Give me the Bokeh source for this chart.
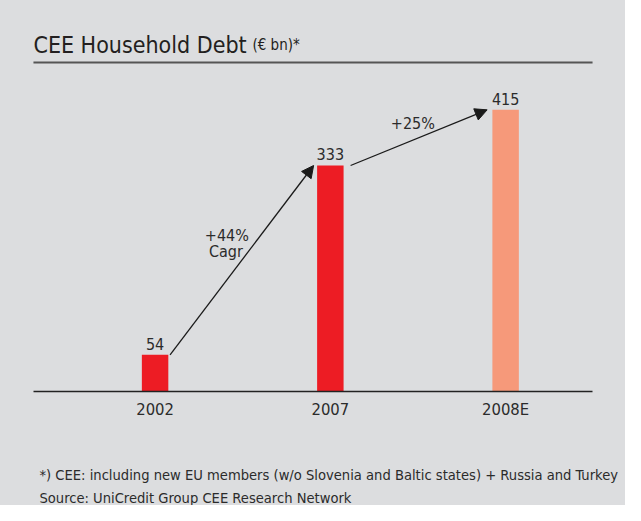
from bokeh.plotting import figure
from bokeh.models import (Range1d, Label, Arrow, NormalHead,
                          ColumnDataSource, FixedTicker)
from bokeh.core.properties import value
from bokeh.embed import file_html
from bokeh.resources import INLINE

# ---- data ----
categories = ["2002", "2007", "2008E"]
debt = [54, 333, 415]
bar_colors = ["#ED1C24", "#ED1C24", "#F6997A"]
arrow_from = [0, 1]
arrow_to = [1, 2]
arrow_labels = [["+44%", "Cagr"], ["+25%"]]
title_main = "CEE Household Debt"
title_unit = "(€ bn)*"
footnotes = [
    "*) CEE: including new EU members (w/o Slovenia and Baltic states) + Russia and Turkey",
    "Source: UniCredit Group CEE Research Network",
]

FONT_NAME = "DejaVu Sans Condensed"
FONT = value(FONT_NAME)
BG = "#DCDDDF"
TXT = "#2B2B2B"
BAR_W = 0.151
X0, X1 = -0.694, 2.496          # extent of the rule and the axis line
XL, XR = -0.882, 2.684          # extent of the drawing area
Y_LINE = 484.7                  # level of the title rule
Y_TOP = 576.1                   # top of the drawing area
Y_BOTTOM = -168.0               # bottom of the drawing area (footnotes)

xs = list(range(len(categories)))
src = ColumnDataSource(dict(x=xs, top=debt, color=bar_colors,
                            label=[str(v) for v in debt]))

p = figure(width=625, height=505, output_backend="svg", toolbar_location=None,
           x_range=Range1d(XL, XR), y_range=Range1d(Y_BOTTOM, Y_TOP),
           y_axis_location=None,
           min_border_left=0, min_border_right=0,
           min_border_top=0, min_border_bottom=0,
           background_fill_color=BG, border_fill_color=BG,
           outline_line_color=None)
p.styles = {"background-color": BG}
p.title.visible = False
p.grid.visible = False

p.vbar(x="x", top="top", bottom=0, width=BAR_W, fill_color="color",
       line_color=None, source=src)
p.text(x="x", y="top", text="label", source=src, text_align="center",
       text_baseline="alphabetic", y_offset=-11, text_font=FONT,
       text_font_size="16px", text_color=TXT)

ax = p.xaxis[0]
ax.fixed_location = 0
ax.bounds = (X0, X1)
ax.ticker = FixedTicker(ticks=xs)
ax.major_label_overrides = {i: c for i, c in zip(xs, categories)}
ax.axis_line_color = "#222222"
ax.axis_line_width = 1.5
ax.major_tick_line_color = None
ax.minor_tick_line_color = None
ax.major_label_text_font = FONT_NAME
ax.major_label_text_font_size = "16.5px"
ax.major_label_text_color = TXT
ax.major_label_standoff = 3

# title rule
p.segment(x0=[X0], y0=[Y_LINE], x1=[X1], y1=[Y_LINE],
          line_color="#555555", line_width=2)

# growth arrows
gap_start = [0.01, 0.04]
gap_end = [0.02, 0.03]
xs0 = [arrow_from[i] + BAR_W / 2 + gap_start[i] for i in range(2)]
xs1 = [arrow_to[i] - BAR_W / 2 - gap_end[i] for i in range(2)]
ys0 = [debt[a] for a in arrow_from]
ys1 = [debt[b] for b in arrow_to]
asrc = ColumnDataSource(dict(x0=xs0, y0=ys0, x1=xs1, y1=ys1))
p.add_layout(Arrow(x_start="x0", y_start="y0", x_end="x1", y_end="y1",
                   source=asrc, line_color="#1A1A1A", line_width=1.3,
                   end=NormalHead(size=12, fill_color="#1A1A1A",
                                  line_color="#1A1A1A", line_width=1)))

label_offsets = [[(-15, 25), (-16, 9)], [(-6, 14)]]
for i in range(2):
    mx = (xs0[i] + xs1[i]) / 2
    my = (ys0[i] + ys1[i]) / 2
    for txt, (dx, dy) in zip(arrow_labels[i], label_offsets[i]):
        p.add_layout(Label(x=mx, y=my, text=txt, x_offset=dx, y_offset=dy,
                           text_align="center", text_baseline="alphabetic",
                           text_font=FONT_NAME, text_font_size="16px",
                           text_color=TXT))

# title above the rule
p.add_layout(Label(x=X0, y=Y_LINE, y_offset=18,
                   text=title_main, text_font=FONT_NAME, text_font_size="23px",
                   text_color="#231F20", text_baseline="alphabetic"))
p.add_layout(Label(x=X0, y=Y_LINE, x_offset=219, y_offset=18,
                   text=title_unit, text_font=FONT_NAME, text_font_size="15px",
                   text_color="#231F20", text_baseline="alphabetic"))

# footnotes below the axis
for k, line in enumerate(footnotes):
    p.add_layout(Label(x=X0, y=0, x_offset=6, y_offset=-83 - 23 * k,
                       text=line, text_font=FONT_NAME, text_font_size="14.6px",
                       text_color=TXT, text_baseline="alphabetic"))

open("out.html", "w").write(file_html(p, INLINE))
